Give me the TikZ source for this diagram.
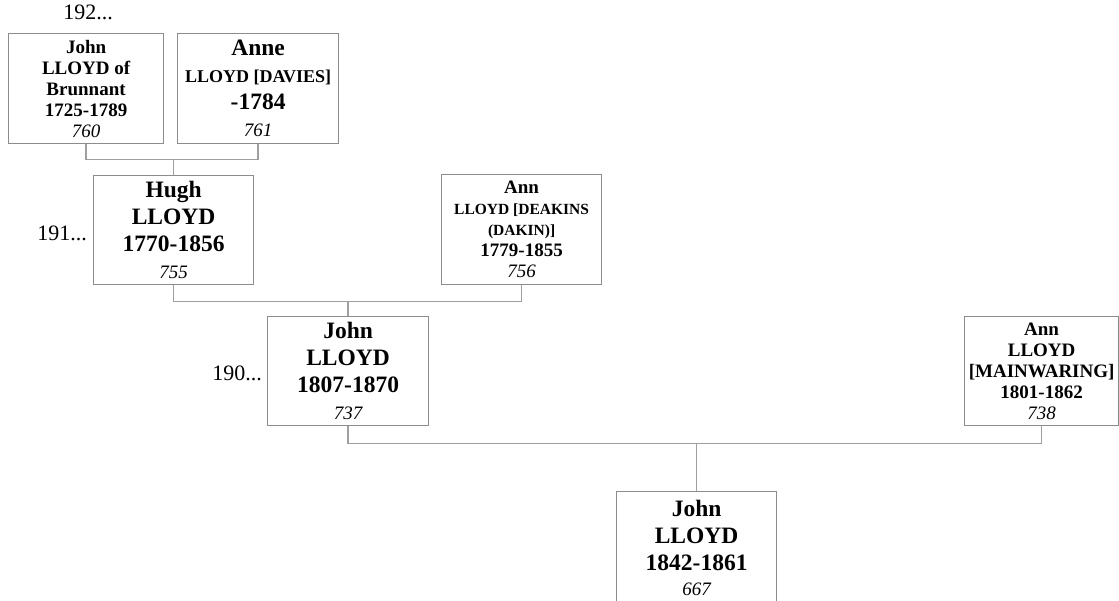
\documentclass[tikz,border=0pt]{standalone}
\usepackage{fontspec}
\setmainfont{Liberation Serif}
\usetikzlibrary{calc}
\newcommand\nmbig[1]{{\fontsize{23.5}{27}\selectfont\bfseries #1}}
\newcommand\nmmid[1]{{\fontsize{19}{21}\selectfont\bfseries #1}}
\newcommand\nmsml[1]{{\fontsize{15.5}{19}\selectfont\bfseries #1}}
\newcommand\refno[1]{{\fontsize{19}{21}\selectfont\itshape #1}}
\tikzset{
  person/.style={draw=gray!90, line width=1.2pt, fill=white, align=center, anchor=north west,
    inner sep=1pt, minimum width=#1, minimum height=109pt, font=\fontsize{19}{21}\selectfont},
  person/.default=160pt,
  bigperson/.style={person=#1, font=\fontsize{23.5}{27}\selectfont},
  bigperson/.default=160pt,
  link/.style={draw=gray!75, line width=1.3pt},
  gen/.style={font=\fontsize{22}{24}\selectfont, inner sep=0pt}}

\begin{document}
\begin{tikzpicture}[x=1pt, y=-1pt]
  \useasboundingbox (0,0) rectangle (1119,600);
  \clip (0,0) rectangle (1119,600);
  % generation 192
  \node[gen] (g192) at (88,12) {192...};
  \node[person=155pt, minimum height=110pt] (johnB) at (8,33)
    {\nmmid{John}\\\nmmid{LLOYD of}\\\nmmid{Brunnant}\\\nmmid{1725-1789}\\\refno{760}};
  \node[bigperson=161pt, minimum height=110pt] (anneD) at (177,33)
    {\nmbig{Anne}\\{\fontsize{18}{21}\selectfont\bfseries LLOYD [DAVIES]}\\\nmbig{-1784}\\\refno{761}};
  % generation 191
  \node[gen, anchor=east] (g191) at (87,233) {191...};
  \node[bigperson] (hugh) at (93,175)
    {\nmbig{Hugh}\\\nmbig{LLOYD}\\\nmbig{1770-1856}\\\refno{755}};
  \node[person, minimum height=110pt] (annDk) at (441,174)
    {\nmmid{Ann}\\\nmsml{LLOYD [DEAKINS}\\\nmsml{(DAKIN)]}\\\nmmid{1779-1855}\\\refno{756}};
  % generation 190
  \node[gen, anchor=east] (g190) at (262,373) {190...};
  \node[bigperson=161pt] (john07) at (267,316)
    {\nmbig{John}\\\nmbig{LLOYD}\\\nmbig{1807-1870}\\\refno{737}};
  \node[person=154pt] (annM) at (964,316)
    {\nmmid{Ann}\\\nmmid{LLOYD}\\\nmmid{[MAINWARING]}\\\nmmid{1801-1862}\\\refno{738}};
  % child
  \node[bigperson, minimum height=112pt] (john42) at (616,491)
    {\nmbig{John}\\\nmbig{LLOYD}\\\nmbig{1842-1861}\\[-2pt]\refno{667}};
  % family lines
  \draw[link] (johnB.south) -- ++(0,15) coordinate (c1) -| (anneD.south);
  \draw[link] (hugh.north) -- (hugh.north |- c1);
  \draw[link] (hugh.south) -- ++(0,16) coordinate (c2) -| (annDk.south);
  \draw[link] (john07.north) -- (john07.north |- c2);
  \draw[link] (john07.south) -- ++(0,17) coordinate (c3) -| (annM.south);
  \draw[link] (john42.north) -- (john42.north |- c3);
\end{tikzpicture}
\end{document}
